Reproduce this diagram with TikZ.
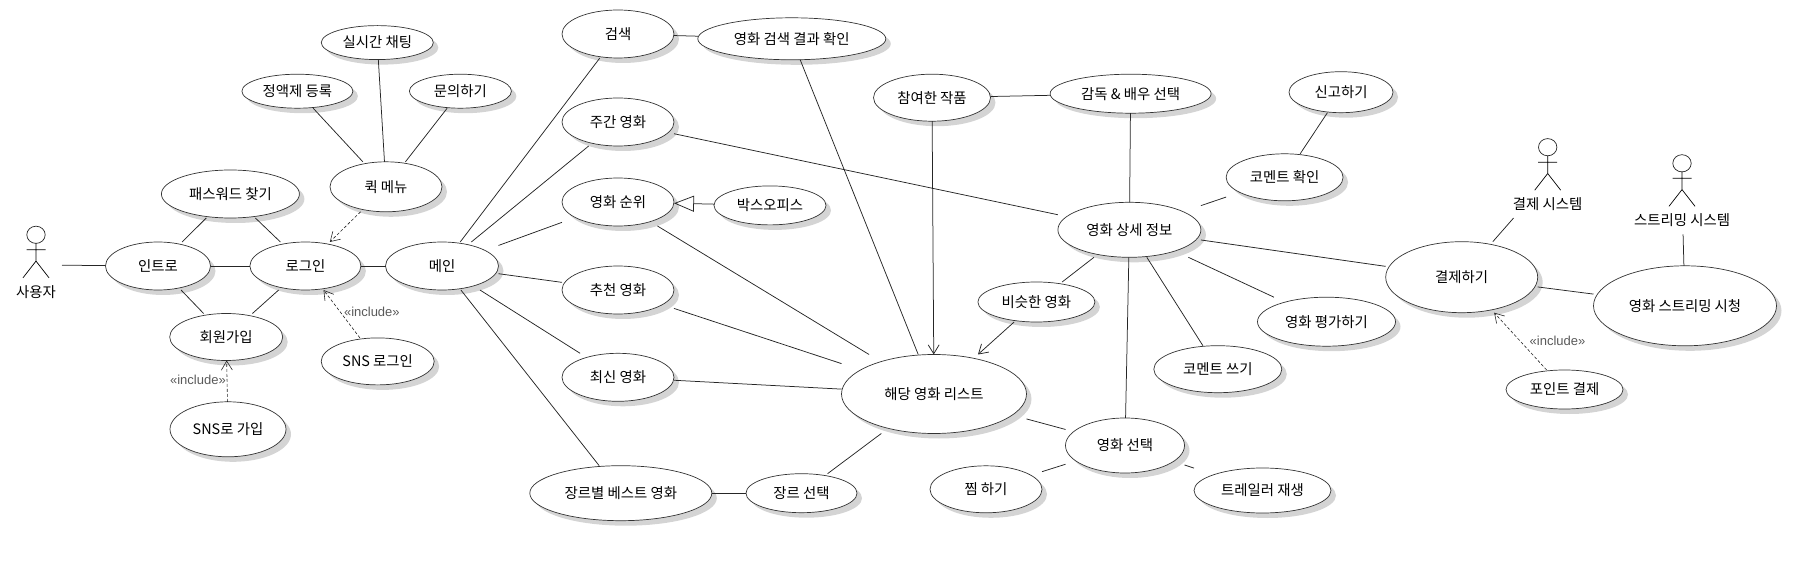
\documentclass[tikz,border=0pt]{standalone}
\usepackage{fontspec}
\setmainfont{Noto Sans CJK KR}
\newfontfamily\incfont{Liberation Sans}
\usetikzlibrary{arrows.meta,positioning,shadows}

\makeatletter
\newdimen\ucrx
\newdimen\ucry
\pgfdeclareshape{usecase}{
  \inheritsavedanchors[from=rectangle]
  \inheritanchorborder[from=rectangle]
  \inheritanchor[from=rectangle]{center}
  \inheritanchor[from=rectangle]{text}
  \inheritanchor[from=rectangle]{base}
  \inheritanchor[from=rectangle]{mid}
  \inheritanchor[from=rectangle]{north}
  \inheritanchor[from=rectangle]{south}
  \inheritanchor[from=rectangle]{east}
  \inheritanchor[from=rectangle]{west}
  \inheritanchor[from=rectangle]{north east}
  \inheritanchor[from=rectangle]{north west}
  \inheritanchor[from=rectangle]{south east}
  \inheritanchor[from=rectangle]{south west}
  \backgroundpath{
    \northeast \ucrx=\pgf@x \ucry=\pgf@y
    \southwest \advance\ucrx by -\pgf@x \advance\ucry by -\pgf@y
    \ucrx=.5\ucrx \ucry=.5\ucry
    \pgfpathellipse{\pgfpointscale{.5}{\pgfpointadd{\northeast}{\southwest}}}
      {\pgfpoint{\ucrx}{0pt}}{\pgfpoint{0pt}{\ucry}}
  }
}
\makeatother

\begin{document}
\begin{tikzpicture}[
    x=1pt, y=1pt,
    every node/.style={font=\fontsize{14.4}{16}\selectfont, text=black},
    uc/.style 2 args={shape=usecase, draw=black!80, fill=white, line width=.7pt,
        minimum width=#1, minimum height=#2, inner sep=0pt, outer sep=0pt,
        drop shadow={shadow xshift=5pt, shadow yshift=-5pt, fill=black!17, opacity=1}},
    actor/.style={rectangle, minimum width=#1, minimum height=78pt, inner sep=0pt, outer sep=0pt},
    inc/.style={font=\incfont\fontsize{13}{14}\selectfont, text=black!65, inner sep=0pt},
    assoc/.style={line width=.75pt, draw=black!85},
    arr/.style={assoc, -{Straight Barb[length=9pt, width=11pt]}},
    incl/.style={line width=.6pt, draw=black!85, dash pattern=on 3pt off 2pt, -{Straight Barb[length=9pt, width=11pt]}},
    gen/.style={assoc, -{Triangle[open, length=20pt, width=16pt]}},
    stickman/.pic={
        \draw[line width=.7pt, draw=black!85] (0,0) ellipse (9.2 and 8.6);
        \draw[line width=.7pt] (0,-8.6) -- (0,-26.3) (-9.5,-15) -- (9.5,-15) (-13,-43) -- (0,-26.3) -- (13,-43);
    }
]
\useasboundingbox (0,0) rectangle (1816,-561);

\node[uc={105}{48}] (intro) at (158,-266) {인트로};
\node[uc={111}{48}] (login) [right=39.4pt of intro] {로그인};
\node[uc={113}{48}] (main) [right=24.6pt of login] {메인};
\node[uc={138}{48}] (pass) [above=24pt of login, xshift=-75pt] {패스워드 찾기};
\node[uc={113}{47}] (join) [below=23.5pt of login, xshift=-79.2pt] {회원가입};
\node[uc={113}{47}] (snslogin) [below=47.9pt of login, xshift=72.3pt] {SNS 로그인};
\node[uc={116}{55}] (snsjoin) [below=41.3pt of join, xshift=1.8pt] {SNS로 가입};
\node[uc={112}{50}] (quick) [above=30.2pt of login, xshift=80.6pt] {퀵 메뉴};
\node[uc={112}{34}] (chat) [above=102.2pt of quick, xshift=-8.7pt] {실시간 채팅};
\node[uc={111}{34}] (plan) [above=53.6pt of quick, xshift=-88.6pt] {정액제 등록};
\node[uc={102}{34}] (ask) [above=53.6pt of quick, xshift=74.4pt] {문의하기};

\node[uc={112}{48}] (search) [right=63.5pt of main, yshift=232pt] {검색};
\node[uc={112}{48}] (weekly) [right=63.5pt of main, yshift=144pt] {주간 영화};
\node[uc={112}{48}] (rank) [right=63.5pt of main, yshift=64pt] {영화 순위};
\node[uc={112}{48}] (recommend) [right=63.5pt of main, yshift=-24pt] {추천 영화};
\node[uc={112}{48}] (latest) [right=63.5pt of main, yshift=-111.3pt] {최신 영화};
\node[uc={182}{55}] (genrebest) [below=175.7pt of main, xshift=178.8pt] {장르별 베스트 영화};
\node[uc={111}{39}] (genre) [right=34.2pt of genrebest] {장르 선택};
\node[uc={188}{42}] (result) [right=23.8pt of search, yshift=-4.8pt] {영화 검색 결과 확인};
\node[uc={112}{39}] (boxoffice) [right=40pt of rank, yshift=-3.4pt] {박스오피스};

\node[uc={185}{79}] (list) [right=167.5pt of latest, yshift=-16.7pt] {해당 영화 리스트};
\node[uc={117}{47}] (works) [above=233.3pt of list, xshift=-2pt] {참여한 작품};
\node[uc={161}{39}] (cast) [right=59.6pt of works, yshift=4pt] {감독 \& 배우 선택};
\node[uc={143}{55}] (detail) [below=89.1pt of cast, xshift=-1.2pt] {영화 상세 정보};
\node[uc={117}{40}] (similar) [below=24.7pt of detail, xshift=-93pt] {비슷한 영화};
\node[uc={119}{55}] (select) [below=160.7pt of detail, xshift=-4.4pt] {영화 선택};
\node[uc={112}{47}] (wish) [left=23.5pt of select, yshift=-43.8pt] {찜 하기};
\node[uc={137}{45}] (trailer) [right=9.5pt of select, yshift=-45pt] {트레일러 재생};
\node[uc={128}{47}] (write) [below=88.4pt of detail, xshift=88.4pt] {코멘트 쓰기};
\node[uc={138}{49}] (rate) [right=56.6pt of detail, yshift=-91.9pt] {영화 평가하기};
\node[uc={117}{47}] (check) [right=25.2pt of detail, yshift=52.5pt] {코멘트 확인};
\node[uc={104}{41}] (report) [above=41.1pt of check, xshift=56.4pt] {신고하기};
\node[uc={152}{71}] (pay) [right=184.8pt of detail, yshift=-47.4pt] {결제하기};
\node[uc={183}{80}] (watch) [right=55.8pt of pay, yshift=-28.6pt] {영화 스트리밍 시청};
\node[uc={117}{39}] (point) [below=57.3pt of pay, xshift=102.8pt] {포인트 결제};

\node[actor=52pt] (user) [left=43.5pt of intro, yshift=1pt] {};
\node[actor=72pt] (paysys) [above=23.7pt of pay, xshift=86pt] {};
\node[actor=86pt] (streamsys) [above=31.5pt of watch, xshift=-3pt] {};
\pic (userfig) at ([yshift=30.2pt]user.center) {stickman};
\pic (paysysfig) at ([yshift=31.8pt]paysys.center) {stickman};
\pic (streamsysfig) at ([yshift=32pt]streamsys.center) {stickman};
\node (userlabel) at ([yshift=-27pt]user.center) {사용자};
\node (paysyslabel) at ([yshift=-25pt]paysys.center) {결제 시스템};
\node (streamsyslabel) at ([yshift=-25pt]streamsys.center) {스트리밍 시스템};

\draw[assoc] (user) -- (intro);
\draw[assoc] (intro) -- (login);
\draw[assoc] (login) -- (main);
\draw[assoc] (intro) -- (pass);
\draw[assoc] (pass) -- (login);
\draw[assoc] (intro) -- (join);
\draw[assoc] (login) -- (join);
\draw[assoc] (quick) -- (plan);
\draw[assoc] (quick) -- (chat);
\draw[assoc] (quick) -- (ask);
\draw[incl] (quick) -- (login);
\draw[incl] (snslogin) -- node[inc, right=2pt, yshift=2pt] (inclogin) {«include»} (login);
\draw[incl] (snsjoin) -- node[inc, left=1pt, yshift=1pt] (incjoin) {«include»} (join);

\draw[assoc] (main) -- (search);
\draw[assoc] (main) -- (weekly);
\draw[assoc] (main) -- (rank);
\draw[assoc] (main) -- (recommend);
\draw[assoc] (main) -- (latest);
\draw[assoc] (main) -- (genrebest);
\draw[assoc] (search) -- (result);
\draw[assoc] (genrebest) -- (genre);
\draw[gen] (boxoffice) -- (rank);

\draw[assoc] (result) -- (list);
\draw[assoc] (rank) -- (list);
\draw[assoc] (recommend) -- (list);
\draw[assoc] (latest) -- (list);
\draw[assoc] (genre) -- (list);
\draw[assoc] (weekly) -- (detail);
\draw[arr] (works) -- (list);
\draw[arr] (similar) -- (list);
\draw[assoc] (works) -- (cast);
\draw[assoc] (cast) -- (detail);
\draw[assoc] (detail) -- (similar);
\draw[assoc] (detail) -- (select);
\draw[assoc] (detail) -- (write);
\draw[assoc] (detail) -- (rate);
\draw[assoc] (detail) -- (check);
\draw[assoc] (check) -- (report);
\draw[assoc] (detail) -- (pay);
\draw[assoc] (list) -- (select);
\draw[assoc] (select) -- (wish);
\draw[assoc] (select) -- (trailer);

\draw[assoc] (pay) -- (paysys);
\draw[assoc] (pay) -- (watch);
\draw[assoc] (watch) -- (streamsys);
\draw[incl] (point) -- node[inc, right=9pt] (incpay) {«include»} (pay);
\end{tikzpicture}
\end{document}
